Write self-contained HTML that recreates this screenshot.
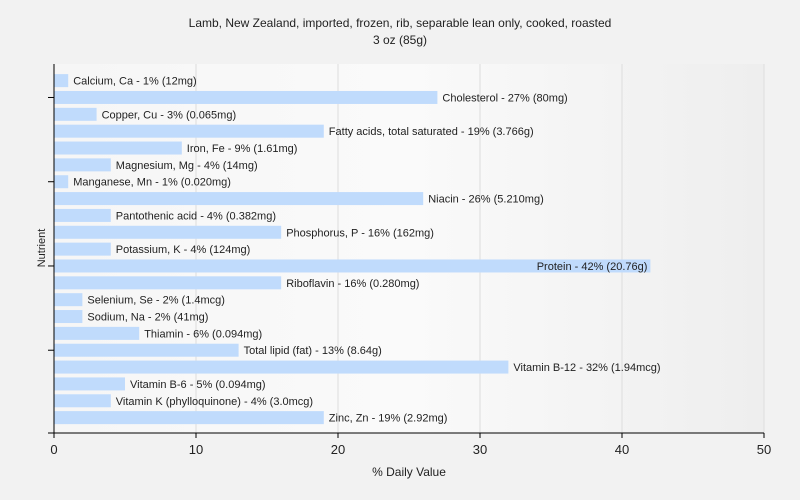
<!DOCTYPE html>
<html><head><meta charset="utf-8"><style>
body{margin:0;background:#f2f2f2;font-family:"Liberation Sans",Arial,sans-serif;}
svg{display:block}
</style></head><body>
<svg id="chart" width="800" height="500" viewBox="0 0 800 500" xmlns="http://www.w3.org/2000/svg">
<defs><linearGradient id="bg" x1="0" x2="1" y1="0" y2="0"><stop offset="0" stop-color="#f6f6f6"/><stop offset="0.5" stop-color="#fafafa"/><stop offset="1" stop-color="#eeeeee"/></linearGradient></defs>
<rect width="800" height="500" fill="#f2f2f2"/>
<rect x="54" y="64" width="710" height="369" fill="url(#bg)"/>
<text x="400" y="27" text-anchor="middle" font-size="12" fill="#222">Lamb, New Zealand, imported, frozen, rib, separable lean only, cooked, roasted</text>
<text x="400" y="44" text-anchor="middle" font-size="12" fill="#222">3 oz (85g)</text>
<text x="409" y="476" text-anchor="middle" font-size="12" fill="#222">% Daily Value</text>
<text transform="translate(45,248) rotate(-90)" text-anchor="middle" font-size="11" fill="#222">Nutrient</text>
<g id="grid"></g><g id="bars"></g><g id="axes"></g>
</svg>
<script>
const labels=["Calcium, Ca - 1% (12mg)","Cholesterol - 27% (80mg)","Copper, Cu - 3% (0.065mg)","Fatty acids, total saturated - 19% (3.766g)","Iron, Fe - 9% (1.61mg)","Magnesium, Mg - 4% (14mg)","Manganese, Mn - 1% (0.020mg)","Niacin - 26% (5.210mg)","Pantothenic acid - 4% (0.382mg)","Phosphorus, P - 16% (162mg)","Potassium, K - 4% (124mg)","Protein - 42% (20.76g)","Riboflavin - 16% (0.280mg)","Selenium, Se - 2% (1.4mcg)","Sodium, Na - 2% (41mg)","Thiamin - 6% (0.094mg)","Total lipid (fat) - 13% (8.64g)","Vitamin B-12 - 32% (1.94mcg)","Vitamin B-6 - 5% (0.094mg)","Vitamin K (phylloquinone) - 4% (3.0mcg)","Zinc, Zn - 19% (2.92mg)"];
const values=[1,27,3,19,9,4,1,26,4,16,4,42,16,2,2,6,13,32,5,4,19];
const xTicks=[0,10,20,30,40,50];
const NS="http://www.w3.org/2000/svg";
const x0=54,x1=764,xmax=50,top0=72.2,band=16.85,bh=13;
const xs=v=>x0+(v/xmax)*(x1-x0);
const yc=i=>top0+band*i+band/2;
function mk(t,a,p){const e=document.createElementNS(NS,t);for(const k in a)e.setAttribute(k,a[k]);p.appendChild(e);return e;}
const grid=document.getElementById('grid'),bars=document.getElementById('bars'),axes=document.getElementById('axes');
xTicks.forEach(t=>{
 if(t>0){const g=mk('line',{x1:xs(t),x2:xs(t),y1:64,y2:433,stroke:'#dddddd','stroke-width':1},grid);
 
 }
 const tk=mk('line',{x1:xs(t),x2:xs(t),y1:433,y2:438,stroke:'#000'},axes);
 
 
 const tl=mk('text',{x:xs(t),y:454,'text-anchor':'middle','font-size':13,fill:'#222'},axes);
 tl.textContent=t;
 
 
});
values.forEach((v,i)=>{
 const r=mk('rect',{x:x0,y:yc(i)-bh/2,width:xs(v)-x0,height:bh,fill:'#c0dbfc'},bars);
 
 
 const t=mk('text',{x:xs(v)+5,y:yc(i)+4,'font-size':11,fill:'#222'},bars);
 t.textContent=labels[i];
 
 
 const w=t.getComputedTextLength();
 if(xs(v)+5+w>x1-2){t.setAttribute('x',xs(v)-3);t.setAttribute('text-anchor','end');}
});
for(let i=1;i<values.length;i+=5){
 const tk=mk('line',{x1:48,x2:54,y1:yc(i),y2:yc(i),stroke:'#000'},axes);
 
 
}
const ya=mk('line',{x1:54,x2:54,y1:64,y2:433,stroke:'#000'},axes);


const xa=mk('line',{x1:48,x2:764,y1:433,y2:433,stroke:'#000'},axes);


</script>
</body></html>
